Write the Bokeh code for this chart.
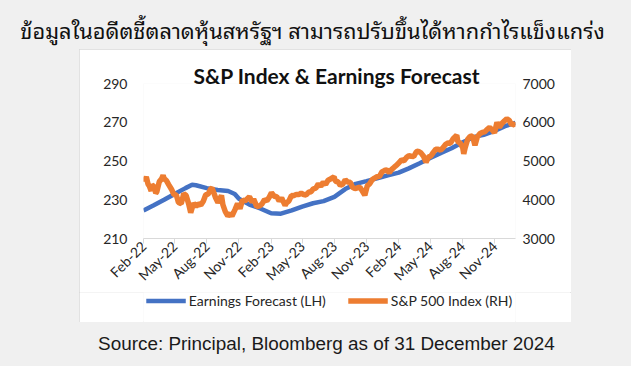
import math
import pandas as pd
from bokeh.plotting import figure
from bokeh.layouts import column, row
from bokeh.models import (Range1d, LinearAxis, FixedTicker, DatetimeTickFormatter,
                          Legend, LegendItem, Spacer, ColumnDataSource)
from bokeh.core.properties import value
from bokeh.embed import file_html
from bokeh.resources import INLINE

# ---------------- data ----------------
title_th = "ข้อมูลในอดีตชี้ตลาดหุ้นสหรัฐฯ สามารถปรับขึ้นได้หากกำไรแข็งแกร่ง"
chart_title = "S&P Index & Earnings Forecast"
source_text = "Source: Principal, Bloomberg as of 31 December 2024"
series_names = ["Earnings Forecast (LH)", "S&P 500 Index (RH)"]

eps_dates = ["2022-02-01", "2022-03-01", "2022-04-01", "2022-05-01", "2022-06-01", "2022-06-20",
             "2022-07-01", "2022-08-01", "2022-09-01", "2022-10-01", "2022-10-20", "2022-11-01",
             "2022-12-01", "2023-01-01", "2023-02-01", "2023-03-01", "2023-04-01", "2023-05-01",
             "2023-06-01", "2023-07-01", "2023-08-01", "2023-09-01", "2023-10-01", "2023-11-01",
             "2023-12-01", "2024-01-01", "2024-02-01", "2024-03-01", "2024-04-01", "2024-05-01",
             "2024-06-01", "2024-07-01", "2024-08-01", "2024-09-01", "2024-10-01", "2024-11-01",
             "2024-12-01", "2024-12-31"]
eps_values = [224.5, 227.0, 230.0, 233.0, 236.0, 237.7,
              237.5, 236.0, 235.0, 234.5, 233.0, 230.5,
              227.5, 225.5, 223.0, 222.8, 224.5, 226.5,
              228.2, 229.3, 231.5, 235.5, 238.2, 239.6,
              241.0, 242.6, 244.0, 246.2, 248.8, 251.5,
              254.2, 256.6, 259.5, 262.3, 263.5, 265.5,
              268.0, 269.7]

spx_dates = ["2022-02-01", "2022-02-04", "2022-02-09", "2022-02-14", "2022-02-18", "2022-02-23",
             "2022-02-25", "2022-03-04", "2022-03-08", "2022-03-11", "2022-03-18", "2022-03-25",
             "2022-03-29", "2022-04-01", "2022-04-08", "2022-04-14", "2022-04-22", "2022-04-29",
             "2022-05-06", "2022-05-12", "2022-05-20", "2022-05-27", "2022-06-03", "2022-06-10",
             "2022-06-16", "2022-06-24", "2022-07-01", "2022-07-08", "2022-07-15", "2022-07-22",
             "2022-07-29", "2022-08-05", "2022-08-12", "2022-08-16", "2022-08-26", "2022-09-02",
             "2022-09-12", "2022-09-16", "2022-09-23", "2022-09-30", "2022-10-07", "2022-10-12",
             "2022-10-21", "2022-10-28", "2022-11-04", "2022-11-11", "2022-11-18", "2022-11-25",
             "2022-12-01", "2022-12-09", "2022-12-13", "2022-12-22", "2022-12-30",
             "2023-01-06", "2023-01-13", "2023-01-20", "2023-01-27", "2023-02-02", "2023-02-10",
             "2023-02-17", "2023-02-24", "2023-03-03", "2023-03-13", "2023-03-17", "2023-03-24",
             "2023-03-31", "2023-04-07", "2023-04-14", "2023-04-21", "2023-04-28", "2023-05-05",
             "2023-05-12", "2023-05-19", "2023-05-26", "2023-06-02", "2023-06-09", "2023-06-16",
             "2023-06-23", "2023-06-30", "2023-07-07", "2023-07-14", "2023-07-21", "2023-07-31",
             "2023-08-04", "2023-08-11", "2023-08-18", "2023-08-25", "2023-09-01", "2023-09-08",
             "2023-09-15", "2023-09-22", "2023-09-29", "2023-10-06", "2023-10-13", "2023-10-20",
             "2023-10-27", "2023-11-03", "2023-11-10", "2023-11-17", "2023-11-24", "2023-12-01",
             "2023-12-08", "2023-12-15", "2023-12-22", "2023-12-29",
             "2024-01-05", "2024-01-12", "2024-01-19", "2024-01-26", "2024-02-02", "2024-02-09",
             "2024-02-16", "2024-02-23", "2024-03-01", "2024-03-08", "2024-03-15", "2024-03-22",
             "2024-03-28", "2024-04-05", "2024-04-12", "2024-04-19", "2024-04-26", "2024-05-03",
             "2024-05-10", "2024-05-17", "2024-05-24", "2024-05-31", "2024-06-07", "2024-06-14",
             "2024-06-21", "2024-06-28", "2024-07-05", "2024-07-16", "2024-07-19", "2024-07-26",
             "2024-08-02", "2024-08-05", "2024-08-09", "2024-08-16", "2024-08-23", "2024-08-30",
             "2024-09-06", "2024-09-13", "2024-09-20", "2024-09-27", "2024-10-04", "2024-10-11",
             "2024-10-18", "2024-10-25", "2024-11-01", "2024-11-08", "2024-11-15", "2024-11-22",
             "2024-11-29", "2024-12-06", "2024-12-13", "2024-12-20", "2024-12-27", "2024-12-31"]
spx_values = [4546, 4500, 4587, 4401, 4349, 4226,
              4385, 4329, 4170, 4204, 4463, 4543,
              4632, 4546, 4488, 4392, 4272, 4132,
              4123, 3930, 3901, 4158, 4109, 3901,
              3666, 3912, 3825, 3899, 3863, 3962,
              4130, 4145, 4280, 4305, 4058, 3924,
              4110, 3873, 3693, 3586, 3640, 3577,
              3753, 3901, 3771, 3993, 3965, 4026,
              4076, 3934, 4019, 3822, 3840,
              3895, 3999, 3973, 4071, 4180, 4090,
              4079, 3970, 4045, 3855, 3917, 3971,
              4109, 4105, 4138, 4133, 4169, 4136,
              4124, 4192, 4205, 4282, 4299, 4410,
              4348, 4450, 4399, 4505, 4536, 4589,
              4478, 4464, 4370, 4406, 4516, 4457,
              4450, 4320, 4288, 4308, 4327, 4224,
              4117, 4358, 4415, 4514, 4559, 4595,
              4604, 4719, 4754, 4770,
              4697, 4784, 4840, 4891, 4959, 5027,
              5006, 5089, 5137, 5124, 5117, 5234,
              5254, 5204, 5123, 4967, 5100, 5128,
              5223, 5303, 5305, 5278, 5347, 5431,
              5465, 5460, 5567, 5667, 5505, 5459,
              5346, 5186, 5344, 5554, 5635, 5648,
              5408, 5626, 5703, 5738, 5751, 5815,
              5865, 5808, 5729, 5996, 5870, 5969,
              6032, 6090, 6051, 5931, 5971, 5882]

x_tick_dates = ["2022-02-01", "2022-05-01", "2022-08-01", "2022-11-01",
                "2023-02-01", "2023-05-01", "2023-08-01", "2023-11-01",
                "2024-02-01", "2024-05-01", "2024-08-01", "2024-11-01"]
left_ticks = [210, 230, 250, 270, 290]
right_ticks = [3000, 4000, 5000, 6000, 7000]
x_start, x_end = "2022-02-01", "2024-12-31"

# ---------------- styling ----------------
BG = "#f0f0f0"
BLUE = "#4472C4"
ORANGE = "#ED7D31"
AX_FONT = "Lato"
THAI_FONT = value("'Noto Sans Thai Looped', Tahoma, Loma, 'Noto Sans Thai', sans-serif")


def ms(d):
    return pd.Timestamp(d).value / 1e6


# ---- Thai title strip ----
top = figure(width=631, height=49, x_range=Range1d(0, 1), y_range=Range1d(0, 1),
             x_axis_location=None, y_axis_location=None, toolbar_location=None,
             output_backend="svg", min_border=0, border_fill_color=BG,
             background_fill_color=BG, outline_line_color=None)
top.grid.visible = False
top.text(x=[0.4945], y=[0.40], text=[title_th], text_align="center", text_baseline="middle",
         text_font=THAI_FONT, text_font_size="21.8px", text_color="#111111")

# ---- chart ----
eps_src = ColumnDataSource(dict(x=pd.to_datetime(eps_dates), y=eps_values))
spx_src = ColumnDataSource(dict(x=pd.to_datetime(spx_dates), y=spx_values))

p = figure(frame_width=372, frame_height=155, x_axis_type="datetime",
           x_range=Range1d(ms(x_start), ms(x_end)), y_range=Range1d(210, 290),
           toolbar_location=None, output_backend="svg",
           min_border_left=64, min_border_right=56, min_border_top=34, min_border_bottom=45,
           border_fill_color="white", background_fill_color="white", outline_line_color=None,
           title=chart_title)
p.title.align = "left"
p.title.text_font = "Lato"
p.title.text_font_size = "21px"
p.title.text_font_style = "bold"
p.title.text_color = "#111111"
p.title.standoff = -9
p.title.offset = 50
p.grid.visible = False
p.extra_y_ranges = {"spx": Range1d(3000, 7000)}

p.line("x", "y", source=eps_src, line_color=BLUE, line_width=4.5)
p.line("x", "y", source=spx_src, line_color=ORANGE, line_width=5.5, y_range_name="spx")

yl = p.yaxis[0]
yl.ticker = FixedTicker(ticks=left_ticks)
yr = LinearAxis(y_range_name="spx", ticker=FixedTicker(ticks=right_ticks))
p.add_layout(yr, "right")
for ax, so in ((yl, 16), (yr, 7)):
    ax.axis_line_color = None
    ax.major_tick_line_color = None
    ax.minor_tick_line_color = None
    ax.major_tick_out = 0
    ax.major_tick_in = 0
    ax.minor_tick_out = 0
    ax.major_label_standoff = so
    ax.major_label_text_font = AX_FONT
    ax.major_label_text_font_size = "14px"
    ax.major_label_text_color = "#262626"

xa = p.xaxis[0]
xa.ticker = FixedTicker(ticks=[ms(d) for d in x_tick_dates])
xa.formatter = DatetimeTickFormatter(days="%b-%y", months="%b-%y", years="%b-%y")
xa.major_label_orientation = math.pi / 4
xa.axis_line_color = "#d9d9d9"
xa.major_tick_line_color = "#d9d9d9"
xa.major_tick_out = 5
xa.major_tick_in = 0
xa.minor_tick_line_color = None
xa.minor_tick_out = 0
xa.major_label_standoff = 0
xa.major_label_text_font = AX_FONT
xa.major_label_text_font_size = "14px"
xa.major_label_text_color = "#262626"

# ---- legend strip (inside the white chart box) ----
lf = figure(width=492, height=30, x_range=Range1d(0, 1), y_range=Range1d(0, 1),
            x_axis_location=None, y_axis_location=None, toolbar_location=None,
            output_backend="svg", min_border=0, border_fill_color="white",
            background_fill_color="white", outline_line_color=None)
lf.grid.visible = False
# legend swatches use the same series styling (data lies outside this strip's view)
r_eps = lf.line("x", "y", source=eps_src, line_color=BLUE, line_width=4.5)
r_spx = lf.line("x", "y", source=spx_src, line_color=ORANGE, line_width=5.5)
legend = Legend(items=[LegendItem(label=series_names[0], renderers=[r_eps]),
                       LegendItem(label=series_names[1], renderers=[r_spx])],
                orientation="horizontal", location="top_center",
                border_line_color=None, background_fill_alpha=0,
                glyph_width=40, glyph_height=17, label_standoff=3, spacing=22,
                padding=0, margin=0,
                label_text_font=AX_FONT, label_text_font_size="14px",
                label_text_color="#262626")
lf.add_layout(legend, "center")

box = column(p, lf, spacing=0,
             styles={"outline": "1px solid #d9d9d9", "outline-offset": "-1px"})

# ---- source strip ----
bot = figure(width=631, height=43, x_range=Range1d(0, 1), y_range=Range1d(0, 1),
             x_axis_location=None, y_axis_location=None, toolbar_location=None,
             output_backend="svg", min_border=0, border_fill_color=BG,
             background_fill_color=BG, outline_line_color=None)
bot.grid.visible = False
bot.text(x=[0.5166], y=[0.535], text=[source_text], text_align="center", text_baseline="middle",
         text_font=value("Liberation Sans"), text_font_size="18.9px", text_color="#1a1a1a")

layout = column(top, row(Spacer(width=79, height=274), box), bot, spacing=0)

html = file_html(layout, INLINE)
html = html.replace("</head>", "<style>html,body{background:%s;}</style></head>" % BG, 1)
open("out.html", "w").write(html)
